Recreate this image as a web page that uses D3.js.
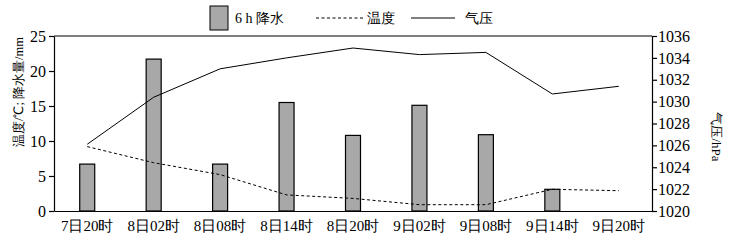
<!DOCTYPE html>
<html>
<head>
<meta charset="utf-8">
<script src="https://cdn.jsdelivr.net/npm/d3@7"></script>
<style>
  body { margin: 0; background: #fff; }
</style>
</head>
<body>
<div id="chart"></div>
<script>
const times = ['7日20时', '8日02时', '8日08时', '8日14时', '8日20时', '9日02时', '9日08时', '9日14时', '9日20时'];
const rain = [6.7, 21.7, 6.7, 15.5, 10.8, 15.1, 10.9, 3.1, null];
const temp = [9.2, 6.9, 5.2, 2.3, 1.8, 0.9, 0.9, 3.1, 2.9];
const pressure = [1026.1, 1030.4, 1033.0, 1034.0, 1034.9, 1034.3, 1034.5, 1030.7, 1031.4];
const leftTicks = [0, 5, 10, 15, 20, 25];
const rightTicks = [1020, 1022, 1024, 1026, 1028, 1030, 1032, 1034, 1036];

const width = 730;
const height = 240;
const margin = { top: 36, right: 78, bottom: 29, left: 54 };
const font = 'Liberation Serif';

const svg = d3.select('#chart')
  .append('svg')
  .attr('width', width)
  .attr('height', height)
  .attr('font-family', font);

const x = d3.scaleBand()
  .domain(times)
  .range([margin.left, width - margin.right]);

const yL = d3.scaleLinear().domain([0, 25]).range([height - margin.bottom, margin.top]);
const yR = d3.scaleLinear().domain([1020, 1036]).range([height - margin.bottom, margin.top]);

// frame top line
svg.append('line')
  .attr('x1', margin.left).attr('x2', width - margin.right)
  .attr('y1', margin.top).attr('y2', margin.top)
  .attr('stroke', '#000').attr('stroke-width', 1.2);

// Axes
const left = svg.append('g')
  .attr('transform', `translate(${margin.left},0)`)
  .call(d3.axisLeft(yL).tickValues(leftTicks).tickSize(5).tickPadding(3).tickSizeOuter(0));
const right = svg.append('g')
  .attr('transform', `translate(${width - margin.right},0)`)
  .call(d3.axisRight(yR).tickValues(rightTicks).tickFormat(d3.format('d')).tickSize(5).tickPadding(1).tickSizeOuter(0));
const bottom = svg.append('g')
  .attr('transform', `translate(0,${height - margin.bottom})`)
  .call(d3.axisBottom(x).tickSize(0).tickPadding(9).tickSizeOuter(0));

[left, right, bottom].forEach((g) => {
  g.attr('font-family', font).attr('font-size', 16);
  g.selectAll('path, line').attr('stroke', '#000').attr('stroke-width', 1.2);
  g.selectAll('text').attr('font-family', font).attr('fill', '#000');
});
bottom.attr('font-size', 15);

// Bars
const barW = 15;
svg.append('g')
  .selectAll('rect')
  .data(times.map((t, i) => ({ t, v: rain[i] })).filter((d) => d.v != null))
  .join('rect')
  .attr('x', (d) => x(d.t) + x.bandwidth() / 2 - barW / 2)
  .attr('y', (d) => yL(d.v))
  .attr('width', barW)
  .attr('height', (d) => yL(0) - yL(d.v))
  .attr('fill', '#a8a8a8')
  .attr('stroke', '#000')
  .attr('stroke-width', 1.2);

const cx = (t) => x(t) + x.bandwidth() / 2;

// Temperature
svg.append('path')
  .datum(times.map((t, i) => [cx(t), yL(temp[i])]))
  .attr('d', d3.line())
  .attr('fill', 'none')
  .attr('stroke', '#000')
  .attr('stroke-width', 1)
  .attr('stroke-dasharray', '3,2.5');

// Pressure
svg.append('path')
  .datum(times.map((t, i) => [cx(t), yR(pressure[i])]))
  .attr('d', d3.line())
  .attr('fill', 'none')
  .attr('stroke', '#000')
  .attr('stroke-width', 1);

// Axis titles
svg.append('text')
  .attr('transform', `translate(23,92) rotate(-90)`)
  .attr('text-anchor', 'middle')
  .attr('font-size', 12.5)
  .text('温度/℃; 降水量/mm');

svg.append('text')
  .attr('transform', `translate(712,137) rotate(90)`)
  .attr('text-anchor', 'middle')
  .attr('font-size', 13)
  .text('气压/hPa');

// Legend
const legend = svg.append('g').attr('font-size', 14);
legend.append('rect')
  .attr('x', 210).attr('y', 6).attr('width', 18).attr('height', 24)
  .attr('fill', '#a8a8a8').attr('stroke', '#000').attr('stroke-width', 1);
legend.append('text')
  .attr('x', 235).attr('y', 23)
  .text('6 h 降水');
legend.append('line')
  .attr('x1', 316).attr('x2', 364).attr('y1', 18).attr('y2', 18)
  .attr('stroke', '#000').attr('stroke-width', 1).attr('stroke-dasharray', '3,2.5');
legend.append('text')
  .attr('x', 367).attr('y', 23)
  .text('温度');
legend.append('line')
  .attr('x1', 411).attr('x2', 455).attr('y1', 18).attr('y2', 18)
  .attr('stroke', '#000').attr('stroke-width', 1);
legend.append('text')
  .attr('x', 465).attr('y', 23)
  .text('气压');
</script>
</body>
</html>
